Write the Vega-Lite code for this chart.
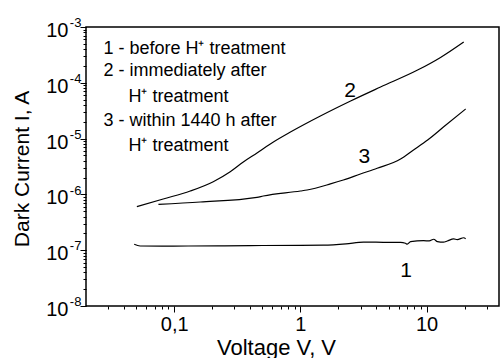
{
  "$schema": "https://vega.github.io/schema/vega-lite/v6.json",
  "width": 413,
  "height": 279,
  "autosize": {"type": "none"},
  "padding": {"left": 86, "top": 27, "right": 1, "bottom": 52},
  "background": "white",
  "view": {"stroke": "black", "strokeWidth": 1.5},
  "config": {
    "axis": {
      "domain": false,
      "grid": false,
      "labelFont": "Liberation Sans",
      "titleFont": "Liberation Sans",
      "titleFontWeight": "normal",
      "labelColor": "black",
      "titleColor": "black",
      "tickColor": "black",
      "tickWidth": 1,
      "labelOverlap": false,
      "labelFlush": false,
      "labelBound": false
    }
  },
  "datasets": {
    "curves": [
      {"curve": "1", "voltage": 0.0482, "current": 1.28e-7},
      {"curve": "1", "voltage": 0.0537, "current": 1.19e-7},
      {"curve": "1", "voltage": 0.08, "current": 1.18e-7},
      {"curve": "1", "voltage": 0.129, "current": 1.19e-7},
      {"curve": "1", "voltage": 0.25, "current": 1.2e-7},
      {"curve": "1", "voltage": 0.401, "current": 1.21e-7},
      {"curve": "1", "voltage": 1.0, "current": 1.22e-7},
      {"curve": "1", "voltage": 1.52, "current": 1.23e-7},
      {"curve": "1", "voltage": 2.3, "current": 1.3e-7},
      {"curve": "1", "voltage": 3.16, "current": 1.4e-7},
      {"curve": "1", "voltage": 5.0, "current": 1.38e-7},
      {"curve": "1", "voltage": 6.22, "current": 1.38e-7},
      {"curve": "1", "voltage": 6.8, "current": 1.33e-7},
      {"curve": "1", "voltage": 7.03, "current": 1.28e-7},
      {"curve": "1", "voltage": 7.47, "current": 1.42e-7},
      {"curve": "1", "voltage": 9.47, "current": 1.48e-7},
      {"curve": "1", "voltage": 10.5, "current": 1.47e-7},
      {"curve": "1", "voltage": 11.4, "current": 1.57e-7},
      {"curve": "1", "voltage": 12.2, "current": 1.42e-7},
      {"curve": "1", "voltage": 13.6, "current": 1.39e-7},
      {"curve": "1", "voltage": 14.6, "current": 1.46e-7},
      {"curve": "1", "voltage": 16.4, "current": 1.59e-7},
      {"curve": "1", "voltage": 17.5, "current": 1.55e-7},
      {"curve": "1", "voltage": 19.7, "current": 1.67e-7},
      {"curve": "1", "voltage": 20.4, "current": 1.6e-7},
      {"curve": "2", "voltage": 0.0506, "current": 6.03e-7},
      {"curve": "2", "voltage": 0.0818, "current": 8.28e-7},
      {"curve": "2", "voltage": 0.134, "current": 1.15e-6},
      {"curve": "2", "voltage": 0.204, "current": 1.69e-6},
      {"curve": "2", "voltage": 0.278, "current": 2.55e-6},
      {"curve": "2", "voltage": 0.353, "current": 3.81e-6},
      {"curve": "2", "voltage": 0.453, "current": 5.52e-6},
      {"curve": "2", "voltage": 0.611, "current": 8.69e-6},
      {"curve": "2", "voltage": 0.834, "current": 1.31e-5},
      {"curve": "2", "voltage": 1.44, "current": 2.54e-5},
      {"curve": "2", "voltage": 2.5, "current": 4.72e-5},
      {"curve": "2", "voltage": 4.32, "current": 8.41e-5},
      {"curve": "2", "voltage": 8.49, "current": 1.69e-4},
      {"curve": "2", "voltage": 12.9, "current": 2.85e-4},
      {"curve": "2", "voltage": 19.7, "current": 5.39e-4},
      {"curve": "3", "voltage": 0.075, "current": 6.65e-7},
      {"curve": "3", "voltage": 0.161, "current": 7.31e-7},
      {"curve": "3", "voltage": 0.453, "current": 8.87e-7},
      {"curve": "3", "voltage": 0.508, "current": 9.35e-7},
      {"curve": "3", "voltage": 1.0, "current": 1.15e-6},
      {"curve": "3", "voltage": 1.13, "current": 1.2e-6},
      {"curve": "3", "voltage": 1.73, "current": 1.54e-6},
      {"curve": "3", "voltage": 2.19, "current": 1.81e-6},
      {"curve": "3", "voltage": 2.99, "current": 2.32e-6},
      {"curve": "3", "voltage": 4.06, "current": 2.94e-6},
      {"curve": "3", "voltage": 6.22, "current": 4.3e-6},
      {"curve": "3", "voltage": 7.88, "current": 6.25e-6},
      {"curve": "3", "voltage": 10.2, "current": 9.44e-6},
      {"curve": "3", "voltage": 13.6, "current": 1.61e-5},
      {"curve": "3", "voltage": 20.4, "current": 3.39e-5}
    ],
    "curveLabels": [
      {"voltage": 2.48, "current": 5.5e-5, "label": "2"},
      {"voltage": 3.22, "current": 3.6e-6, "label": "3"},
      {"voltage": 6.87, "current": 3.35e-8, "label": "1"}
    ],
    "legend": [
      {"voltage": 0.0275, "current": 3.24e-4, "label": "1 - before H⁺ treatment"},
      {"voltage": 0.0275, "current": 1.32e-4, "label": "2 - immediately after"},
      {"voltage": 0.0434, "current": 4.58e-5, "label": "H⁺ treatment"},
      {"voltage": 0.0275, "current": 1.68e-5, "label": "3 - within 1440 h after"},
      {"voltage": 0.0434, "current": 6.07e-6, "label": "H⁺ treatment"}
    ]
  },
  "layer": [
    {
      "data": {"name": "curves"},
      "transform": [{"filter": "datum.curve == '1'"}],
      "mark": {"type": "line", "color": "black", "strokeWidth": 1.2, "interpolate": "monotone"},
      "encoding": {
        "x": {
          "field": "voltage", "type": "quantitative",
          "scale": {"type": "log", "domain": [0.02, 37.5], "nice": false},
          "axis": {
            "orient": "bottom",
            "values": [0.1, 1, 10],
            "labelExpr": "datum.value == 0.1 ? '0,1' : (datum.value == 1 ? '1' : '10')",
            "ticks": true,
            "tickColor": "black",
            "tickWidth": 1,
            "tickSize": 6,
            "labelPadding": 2.7,
            "labelFontSize": 20,
            "title": "Voltage V, V",
            "titleFontSize": 22,
            "titleX": 190,
            "titleY": 48,
            "titleAlign": "center",
            "titleBaseline": "alphabetic"
          }
        },
        "y": {
          "field": "current", "type": "quantitative",
          "scale": {"type": "log", "domain": [1e-8, 1e-3], "nice": false},
          "axis": {
            "orient": "left",
            "values": [1e-8, 1e-7, 1e-6, 1e-5, 1e-4, 1e-3],
            "labelExpr": "'10'",
            "ticks": true,
            "tickColor": "black",
            "tickWidth": 1,
            "tickSize": 6,
            "labelPadding": 12,
            "labelOffset": 3.5,
            "labelAlign": "right",
            "labelBaseline": "middle",
            "labelFontSize": 20,
            "title": "Dark Current I, A",
            "titleFontSize": 21,
            "titleAngle": -90,
            "titleX": -58,
            "titleY": 141.5,
            "titleAlign": "center",
            "titleBaseline": "alphabetic"
          }
        }
      }
    },
    {
      "data": {"name": "curves"},
      "transform": [{"filter": "datum.curve == '2'"}],
      "mark": {"type": "line", "color": "black", "strokeWidth": 1.2, "interpolate": "monotone"},
      "encoding": {
        "x": {
          "field": "voltage", "type": "quantitative",
          "axis": {
            "orient": "bottom",
            "values": [0.03, 0.04, 0.05, 0.06, 0.07, 0.08, 0.09, 0.2, 0.3, 0.4, 0.5, 0.6, 0.7, 0.8, 0.9, 2, 3, 4, 5, 6, 7, 8, 9, 20, 30],
            "labels": false,
            "ticks": true,
            "tickColor": "black",
            "tickWidth": 1,
            "tickSize": 3,
            "title": null
          }
        },
        "y": {
          "field": "current", "type": "quantitative",
          "axis": {
            "orient": "left",
            "values": [1e-8, 2e-8, 3e-8, 4e-8, 5e-8, 6e-8, 7e-8, 8e-8, 9e-8, 1e-7, 2e-7, 3e-7, 4e-7, 5e-7, 6e-7, 7e-7, 8e-7, 9e-7, 1e-6, 2e-6, 3e-6, 4e-6, 5e-6, 6e-6, 7e-6, 8e-6, 9e-6, 1e-5, 2e-5, 3e-5, 4e-5, 5e-5, 6e-5, 7e-5, 8e-5, 9e-5, 1e-4, 2e-4, 3e-4, 4e-4, 5e-4, 6e-4, 7e-4, 8e-4, 9e-4, 1e-3],
            "labelExpr": "abs(log(datum.value)/LN10 - round(log(datum.value)/LN10)) < 0.01 ? '' + round(log(datum.value)/LN10) : ''",
            "ticks": true,
            "tickColor": "black",
            "tickWidth": 1,
            "tickSize": 3,
            "labelAlign": "left",
            "labelBaseline": "middle",
            "labelPadding": 13.7,
            "labelOffset": -4.4,
            "labelFontSize": 13,
            "title": null
          }
        }
      }
    },
    {
      "data": {"name": "curves"},
      "transform": [{"filter": "datum.curve == '3'"}],
      "mark": {"type": "line", "color": "black", "strokeWidth": 1.2, "interpolate": "monotone"},
      "encoding": {
        "x": {"field": "voltage", "type": "quantitative", "axis": null},
        "y": {"field": "current", "type": "quantitative", "axis": null}
      }
    },
    {
      "data": {"name": "curveLabels"},
      "mark": {"type": "text", "font": "Liberation Sans", "fontSize": 21, "align": "center", "baseline": "alphabetic", "color": "black"},
      "encoding": {
        "x": {"field": "voltage", "type": "quantitative", "axis": null},
        "y": {"field": "current", "type": "quantitative", "axis": null},
        "text": {"field": "label"}
      }
    },
    {
      "data": {"name": "legend"},
      "mark": {"type": "text", "font": "Liberation Sans", "fontSize": 18, "align": "left", "baseline": "alphabetic", "color": "black"},
      "encoding": {
        "x": {"field": "voltage", "type": "quantitative", "axis": null},
        "y": {"field": "current", "type": "quantitative", "axis": null},
        "text": {"field": "label"}
      }
    }
  ],
  "resolve": {"axis": {"x": "independent", "y": "independent"}}
}
